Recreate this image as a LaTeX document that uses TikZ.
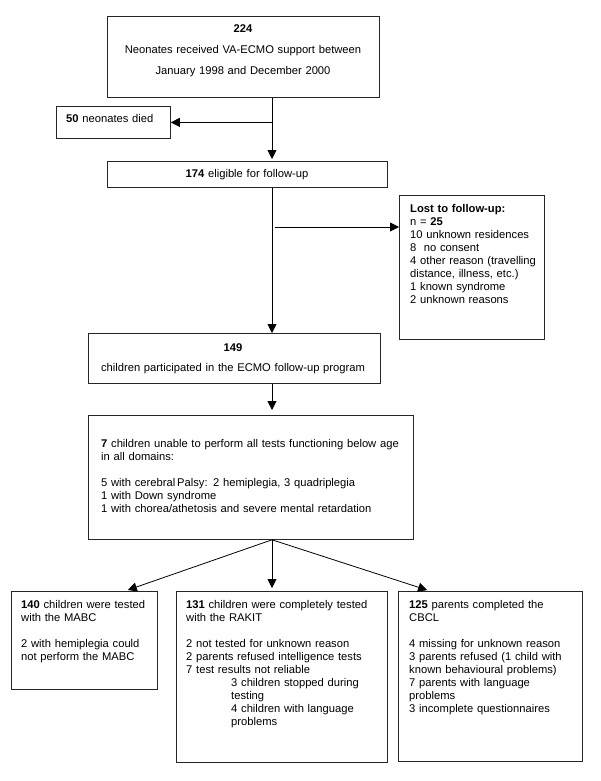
\documentclass[tikz,border=0pt]{standalone}
\usepackage{fontspec}
\setmainfont{Liberation Sans}
\usetikzlibrary{arrows.meta,calc}
\begin{document}
\begin{tikzpicture}[x=1pt,y=-1pt,
  bx/.style={draw=black!85, line width=0.8pt, inner sep=0pt, anchor=north west},
  tl/.style={inner sep=0pt, anchor=base west, align=left, text width=#1, font=\fontsize{11.2}{13}\selectfont},
  tc/.style={inner sep=0pt, anchor=base, align=center, text width=#1, font=\fontsize{11.2}{13}\selectfont},
  arr/.style={draw=black, line width=0.8pt, -{Triangle[length=9pt,width=9pt]}}]
\useasboundingbox[fill=white] (0,0) rectangle (600,781);

% boxes
\node[bx, minimum width=272pt, minimum height=81pt]  (b1)   at (107,16)  {};
\node[bx, minimum width=114pt, minimum height=32pt]  (died) at (56,106)  {};
\node[bx, minimum width=280pt, minimum height=26pt]  (b174) at (107,161) {};
\node[bx, minimum width=145pt, minimum height=144pt] (lost) at (399,195) {};
\node[bx, minimum width=292pt, minimum height=50pt]  (b149) at (88,333)  {};
\node[bx, minimum width=325pt, minimum height=124pt] (b7)   at (88,415)  {};
\node[bx, minimum width=146pt, minimum height=98pt]  (bl)   at (11,591)  {};
\node[bx, minimum width=211pt, minimum height=171pt] (bm)   at (176,591) {};
\node[bx, minimum width=184pt, minimum height=170pt] (br)   at (398,591) {};

% texts
\node[tc=272pt, font=\fontsize{11.2}{21}\selectfont] (t1) at (243,33)
  {\textbf{224}\\Neonates received VA-ECMO support between\\January 1998 and December 2000};
\node[tl=100pt] (tdied) at (66,122) {\textbf{50} neonates died};
\node[tc=280pt] (t174) at (247,177) {\textbf{174} eligible for follow-up};
\node[tl=134pt] (tlost) at (410,212)
  {\textbf{Lost to follow-up:}\\
   n = \textbf{25}\\
   10 unknown residences\\
   8\ \ no consent\\
   4 other reason (travelling\\
   distance, illness, etc.)\\
   1 known syndrome\\
   2 unknown reasons};
\node[tc=292pt, font=\fontsize{11.2}{20}\selectfont] (t149) at (233,351)
  {\textbf{149}\\children participated in the ECMO follow-up program};
\node[tl=310pt] (t7) at (101,447)
  {\textbf{7} children unable to perform all tests functioning below age\\
   in all domains:\\[13pt]
   5 with cerebral\,Palsy: 2 hemiplegia, 3 quadriplegia\\
   1 with Down syndrome\\
   1 with chorea/athetosis and severe mental retardation};
\node[tl=135pt] (tbl) at (21,608)
  {\textbf{140} children were tested\\
   with the MABC\\[13pt]
   2 with hemiplegia could\\
   not perform the MABC};
\node[tl=198pt] (tbm) at (186,608)
  {\textbf{131} children were completely tested\\
   with the RAKIT\\[13pt]
   2 not tested for unknown reason\\
   2 parents refused intelligence tests\\
   7 test results not reliable\\
   \hspace*{45pt}3 children stopped during\\
   \hspace*{45pt}testing\\
   \hspace*{45pt}4 children with language\\
   \hspace*{45pt}problems};
\node[tl=172pt] (tbr) at (409,608)
  {\textbf{125} parents completed the\\
   CBCL\\[13pt]
   4 missing for unknown reason\\
   3 parents refused (1 child with\\
   known behavioural problems)\\
   7 parents with language\\
   problems\\
   3 incomplete questionnaires};

% connector guide coordinates
\coordinate (xm) at (272,0);
\coordinate (xg) at (275,0);
\coordinate (xa) at (125,0);
\coordinate (xb) at (430,0);
\coordinate (lostin) at ($(lost.north west)+(0,32)$);

% connectors
\draw[arr, shorten >=2pt] (b1.south -| xm) -- (b174.north -| xm);
\draw[arr] (died.east -| xm) -- (died.east);
\draw[arr] (b174.south -| xm) -- (b149.north -| xm);
\draw[arr] (lostin -| xg) -- (lostin);
\draw[arr, shorten >=5pt] (b149.south -| xm) -- (b7.north -| xm);
\draw[arr, shorten >=3pt] (b7.south -| xm) -- (bl.north -| xa);
\draw[arr, shorten >=3pt] (b7.south -| xm) -- (bm.north -| xm);
\draw[arr, shorten >=3pt] (b7.south -| xm) -- (br.north -| xb);
\end{tikzpicture}
\end{document}
